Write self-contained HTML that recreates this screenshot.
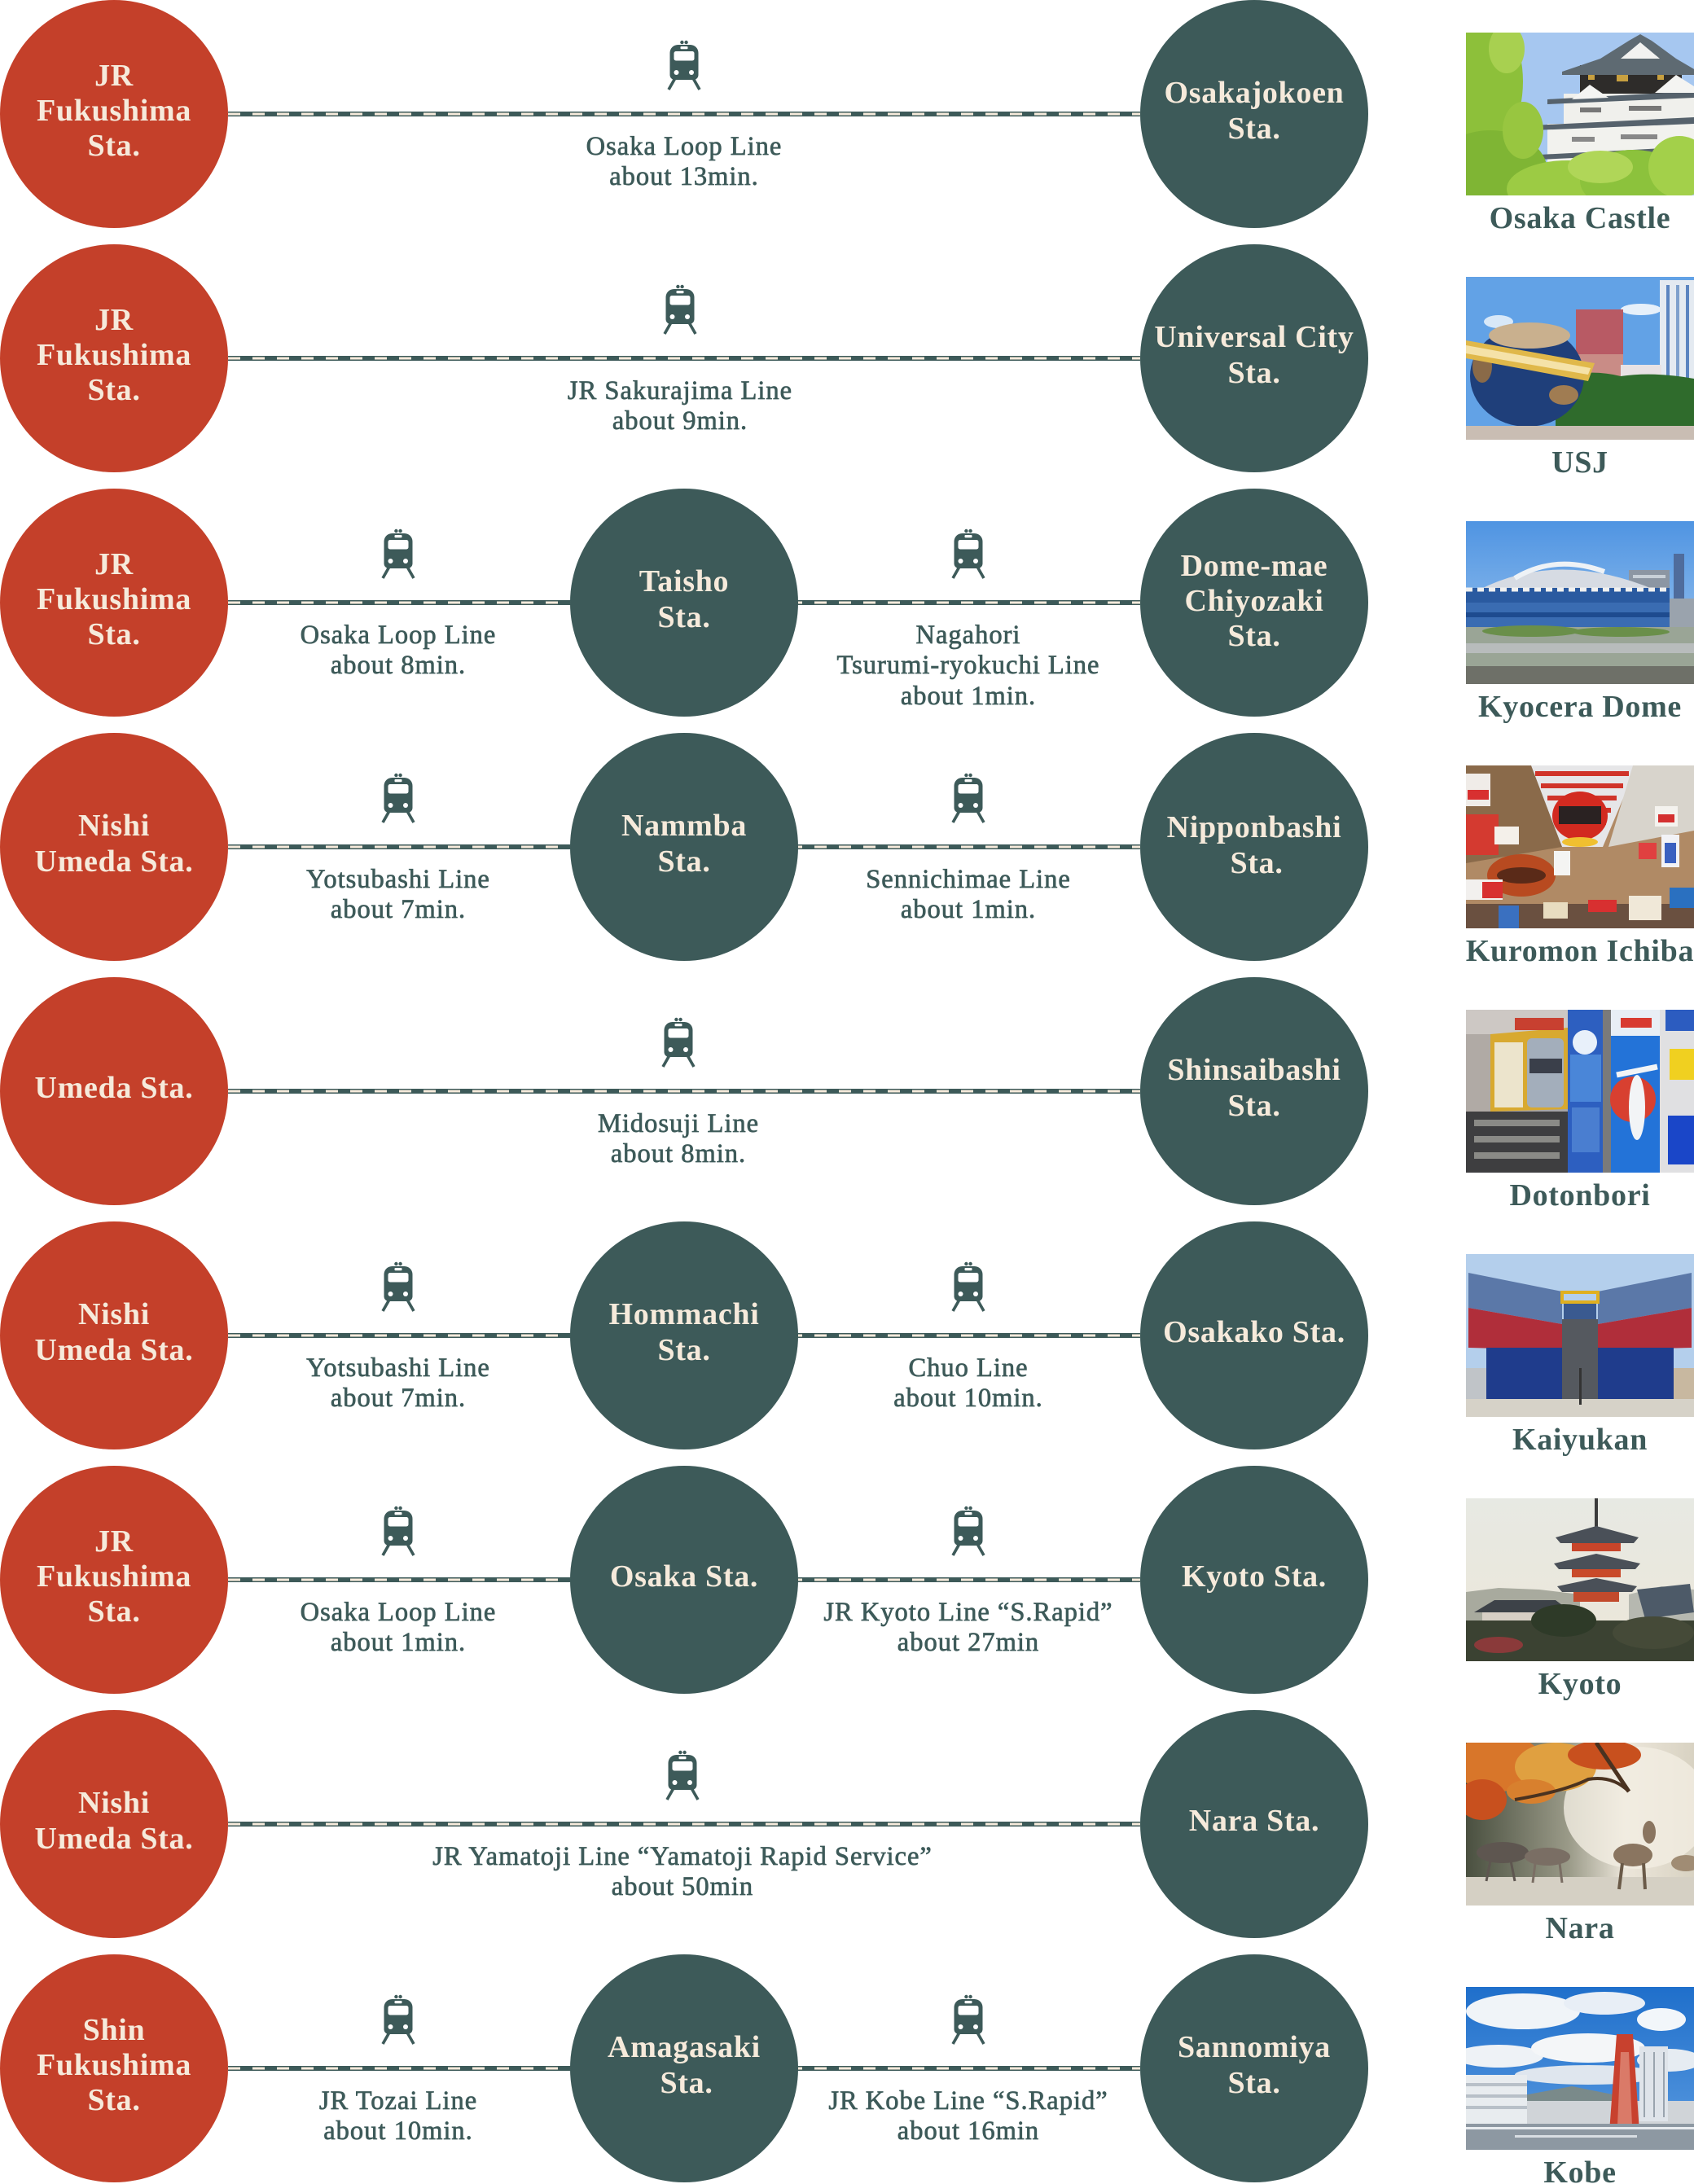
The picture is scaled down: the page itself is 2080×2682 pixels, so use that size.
<!DOCTYPE html>
<html>
<head>
<meta charset="utf-8">
<style>
  html,body{margin:0;padding:0;background:#fff;}
  body{width:2080px;height:2682px;overflow:hidden;}
  svg{display:block;}
  .red{fill:#c4402a;}
  .teal{fill:#3d5a59;}
  .bar{fill:#3d5a59;}
  .dash{stroke:#f6eadb;stroke-width:3;stroke-dasharray:15 15;}
  .st{font-family:"Liberation Serif",serif;font-weight:bold;font-size:38px;fill:#f6eadb;text-anchor:middle;letter-spacing:0.7px;}
  .cap{font-family:"Liberation Serif",serif;font-weight:bold;font-size:38px;fill:#3d5a59;text-anchor:middle;letter-spacing:0.7px;}
  .lb{font-family:"Liberation Serif",serif;font-size:32.5px;fill:#3d5a59;stroke:#3d5a59;stroke-width:0.7px;text-anchor:middle;letter-spacing:1px;}
</style>
</head>
<body>
<svg width="2080" height="2682" viewBox="0 0 2080 2682" xmlns="http://www.w3.org/2000/svg">
<defs>
  <g id="train">
    <circle cx="-2.6" cy="-88" r="2.2" fill="#3d5a59"/>
    <circle cx="2.6" cy="-88" r="2.2" fill="#3d5a59"/>
    <path d="M-17.5,-75 a10,10 0 0 1 10,-10 h15 a10,10 0 0 1 10,10 v27 a6,6 0 0 1 -6,6 h-23 a6,6 0 0 1 -6,-6 z" fill="#3d5a59"/>
    <rect x="-12.5" y="-77" width="25" height="11.5" rx="2.5" fill="#fff"/>
    <rect x="-4.5" y="-83" width="9" height="3.2" rx="1" fill="#fff"/>
    <circle cx="-9.5" cy="-51" r="3" fill="#fff"/>
    <circle cx="9" cy="-51" r="3" fill="#fff"/>
    <path d="M-11,-44 L-19,-30 M11,-44 L19,-30" stroke="#3d5a59" stroke-width="3.6" fill="none"/>
  </g>
  <linearGradient id="skyA" x1="0" y1="0" x2="0" y2="1"><stop offset="0" stop-color="#4f94e2"/><stop offset="1" stop-color="#a9cdf1"/></linearGradient>
  <linearGradient id="skyK" x1="0" y1="0" x2="0" y2="1"><stop offset="0" stop-color="#e7e9e3"/><stop offset="1" stop-color="#ece6d8"/></linearGradient>
  <linearGradient id="naraG" x1="0" y1="0" x2="1" y2="0"><stop offset="0" stop-color="#4a5040"/><stop offset="0.45" stop-color="#9a9a88"/><stop offset="0.7" stop-color="#ece6da"/><stop offset="1" stop-color="#d8d2c2"/></linearGradient>
  <linearGradient id="kobeS" x1="0" y1="0" x2="0" y2="1"><stop offset="0" stop-color="#1f6fcb"/><stop offset="1" stop-color="#5b9be0"/></linearGradient>
</defs>

<!-- ROW 0 -->
<g transform="translate(0,140)">
  <rect class="bar" x="280" y="-3" width="1120" height="6"/>
  <line class="dash" x1="280" y1="0" x2="1400" y2="0"/>
  <circle class="red" cx="140" cy="0" r="140"/>
  <circle class="teal" cx="1540" cy="0" r="140"/>
  <text class="st"><tspan x="140" y="-35">JR</tspan><tspan x="140" y="8">Fukushima</tspan><tspan x="140" y="51">Sta.</tspan></text>
  <text class="st"><tspan x="1540" y="-14">Osakajokoen</tspan><tspan x="1540" y="30">Sta.</tspan></text>
  <use href="#train" x="840" y="0"/>
  <text class="lb"><tspan x="840" y="50">Osaka Loop Line</tspan><tspan x="840" y="87">about 13min.</tspan></text>
  <svg x="1800" y="-100" width="280" height="200">
    <rect width="280" height="200" fill="#a6c7f0"/>
    <!-- castle -->
    <rect x="140" y="40" width="125" height="35" fill="#2e2c2a"/>
    <rect x="150" y="50" width="8" height="8" fill="#c8a040"/><rect x="185" y="52" width="14" height="8" fill="#c8a040"/><rect x="235" y="50" width="8" height="8" fill="#c8a040"/>
    <polygon points="118,48 165,32 200,10 214,2 228,10 258,32 282,46 282,52 118,52" fill="#5e6a72"/>
    <polygon points="190,32 214,12 238,32" fill="#f2f2f0"/>
    <rect x="120" y="75" width="160" height="40" fill="#f0f0ec"/>
    <polygon points="100,82 280,72 280,80 100,88" fill="#56626c"/>
    <polygon points="232,74 258,52 280,66 280,74" fill="#f4f4f2"/>
    <polygon points="130,82 152,64 175,80" fill="#f4f4f2"/>
    <rect x="100" y="112" width="180" height="50" fill="#f2f2ee"/>
    <polygon points="82,114 280,104 280,112 82,120" fill="#56626c"/>
    <polygon points="90,150 280,140 280,147 90,156" fill="#56626c"/>
    <rect x="140" y="92" width="26" height="6" fill="#777"/><rect x="200" y="90" width="40" height="6" fill="#777"/>
    <rect x="130" y="128" width="28" height="6" fill="#888"/><rect x="190" y="125" width="45" height="6" fill="#888"/>
    <!-- trees -->
    <ellipse cx="22" cy="60" rx="48" ry="85" fill="#8dc03a"/>
    <ellipse cx="30" cy="170" rx="70" ry="50" fill="#7fb534"/>
    <ellipse cx="125" cy="192" rx="75" ry="35" fill="#9ccb44"/>
    <ellipse cx="205" cy="182" rx="65" ry="38" fill="#8cc23c"/>
    <ellipse cx="262" cy="165" rx="38" ry="38" fill="#a3d04a"/>
    <ellipse cx="165" cy="165" rx="40" ry="20" fill="#b0d658"/>
    <ellipse cx="70" cy="120" rx="25" ry="35" fill="#98c640"/>
    <ellipse cx="50" cy="20" rx="22" ry="30" fill="#a8d050"/>
  </svg>
  <text class="cap" x="1940" y="140">Osaka Castle</text>
</g>

<!-- ROW 1 -->
<g transform="translate(0,440)">
  <rect class="bar" x="280" y="-3" width="1120" height="6"/>
  <line class="dash" x1="280" y1="0" x2="1400" y2="0"/>
  <circle class="red" cx="140" cy="0" r="140"/>
  <circle class="teal" cx="1540" cy="0" r="140"/>
  <text class="st"><tspan x="140" y="-35">JR</tspan><tspan x="140" y="8">Fukushima</tspan><tspan x="140" y="51">Sta.</tspan></text>
  <text class="st"><tspan x="1540" y="-14">Universal City</tspan><tspan x="1540" y="30">Sta.</tspan></text>
  <use href="#train" x="835" y="0"/>
  <text class="lb"><tspan x="835" y="50">JR Sakurajima Line</tspan><tspan x="835" y="87">about 9min.</tspan></text>
  <svg x="1800" y="-100" width="280" height="200">
    <rect width="280" height="200" fill="#62a2e6"/>
    <ellipse cx="215" cy="40" rx="25" ry="7" fill="#e6f0fa"/>
    <ellipse cx="40" cy="55" rx="18" ry="8" fill="#d8e8f8"/>
    <rect x="238" y="4" width="42" height="128" fill="#e4eaf1"/>
    <rect x="246" y="10" width="4" height="118" fill="#5b84c0"/><rect x="258" y="10" width="4" height="118" fill="#7fa0cc"/><rect x="270" y="10" width="4" height="118" fill="#5b84c0"/>
    <rect x="135" y="40" width="58" height="55" fill="#b85a64"/>
    <rect x="135" y="95" width="58" height="30" fill="#c98c86"/>
    <rect x="190" y="108" width="50" height="22" fill="#e8e2e4"/>
    <path d="M110,125 Q150,112 190,122 Q230,116 280,125 L280,185 L110,185 Z" fill="#2f6b2c"/>
    <ellipse cx="75" cy="122" rx="70" ry="62" fill="#1f3f7a"/>
    <ellipse cx="78" cy="72" rx="50" ry="16" fill="#c9b08e"/>
    <ellipse cx="120" cy="145" rx="18" ry="12" fill="#a07c52"/>
    <ellipse cx="20" cy="110" rx="12" ry="20" fill="#8a6a48"/>
    <polygon points="0,78 0,100 150,128 158,106" fill="#e0b84a"/>
    <polygon points="0,84 0,94 150,120 153,112" fill="#f5e2a8"/>
    <rect x="0" y="183" width="280" height="17" fill="#c9bdb3"/>
  </svg>
  <text class="cap" x="1940" y="140">USJ</text>
</g>

<!-- ROW 2 -->
<g transform="translate(0,740)">
  <rect class="bar" x="280" y="-3" width="1120" height="6"/>
  <line class="dash" x1="280" y1="0" x2="1400" y2="0"/>
  <circle class="red" cx="140" cy="0" r="140"/>
  <circle class="teal" cx="840" cy="0" r="140"/>
  <circle class="teal" cx="1540" cy="0" r="140"/>
  <text class="st"><tspan x="140" y="-35">JR</tspan><tspan x="140" y="8">Fukushima</tspan><tspan x="140" y="51">Sta.</tspan></text>
  <text class="st"><tspan x="840" y="-14">Taisho</tspan><tspan x="840" y="30">Sta.</tspan></text>
  <text class="st"><tspan x="1540" y="-33">Dome-mae</tspan><tspan x="1540" y="10">Chiyozaki</tspan><tspan x="1540" y="53">Sta.</tspan></text>
  <use href="#train" x="489" y="0"/>
  <use href="#train" x="1189" y="0"/>
  <text class="lb"><tspan x="489" y="50">Osaka Loop Line</tspan><tspan x="489" y="87">about 8min.</tspan></text>
  <text class="lb"><tspan x="1189" y="50">Nagahori</tspan><tspan x="1189" y="87">Tsurumi-ryokuchi Line</tspan><tspan x="1189" y="125">about 1min.</tspan></text>
  <svg x="1800" y="-100" width="280" height="200">
    <rect width="280" height="200" fill="url(#skyA)"/>
    <rect x="200" y="60" width="50" height="72" fill="#8c96a3"/>
    <rect x="205" y="66" width="40" height="4" fill="#c8d0d8"/>
    <rect x="255" y="40" width="13" height="92" fill="#4f6c9c"/>
    <rect x="250" y="95" width="30" height="40" fill="#9aa3ad"/>
    <path d="M2,92 Q110,28 245,90 Z" fill="#d6dbe3"/>
    <path d="M60,70 Q110,40 170,62" stroke="#eef2f6" stroke-width="6" fill="none"/>
    <rect x="0" y="82" width="250" height="18" fill="#2a5aa0"/>
    <path d="M0,84 h250" stroke="#f0f0f0" stroke-width="5" stroke-dasharray="8 6"/>
    <rect x="0" y="100" width="250" height="30" fill="#3a6cb2"/>
    <rect x="0" y="112" width="250" height="6" fill="#1e4b8f"/>
    <rect x="0" y="130" width="280" height="70" fill="#9aa596"/>
    <ellipse cx="80" cy="135" rx="60" ry="7" fill="#6a8f4a"/>
    <ellipse cx="190" cy="136" rx="60" ry="6" fill="#6a8f4a"/>
    <rect x="0" y="150" width="280" height="12" fill="#b8bcbc"/>
    <rect x="0" y="178" width="280" height="22" fill="#6e7068"/>
  </svg>
  <text class="cap" x="1940" y="140">Kyocera Dome</text>
</g>

<!-- ROW 3 -->
<g transform="translate(0,1040)">
  <rect class="bar" x="280" y="-3" width="1120" height="6"/>
  <line class="dash" x1="280" y1="0" x2="1400" y2="0"/>
  <circle class="red" cx="140" cy="0" r="140"/>
  <circle class="teal" cx="840" cy="0" r="140"/>
  <circle class="teal" cx="1540" cy="0" r="140"/>
  <text class="st"><tspan x="140" y="-14">Nishi</tspan><tspan x="140" y="30">Umeda Sta.</tspan></text>
  <text class="st"><tspan x="840" y="-14">Nammba</tspan><tspan x="840" y="30">Sta.</tspan></text>
  <text class="st"><tspan x="1540" y="-12">Nipponbashi</tspan><tspan x="1543" y="32">Sta.</tspan></text>
  <use href="#train" x="489" y="0"/>
  <use href="#train" x="1189" y="0"/>
  <text class="lb"><tspan x="489" y="50">Yotsubashi Line</tspan><tspan x="489" y="87">about 7min.</tspan></text>
  <text class="lb"><tspan x="1189" y="50">Sennichimae Line</tspan><tspan x="1189" y="87">about 1min.</tspan></text>
  <svg x="1800" y="-100" width="280" height="200">
    <rect width="280" height="200" fill="#b08a65"/>
    <polygon points="75,0 210,0 168,100 118,100" fill="#e6e6e8"/>
    <path d="M85,10 L200,10 M92,25 L193,25 M100,40 L185,40 M108,55 L178,55 M114,70 L172,70" stroke="#d0342a" stroke-width="6"/>
    <polygon points="205,0 280,0 280,80 175,100" fill="#d8d4cc"/>
    <polygon points="0,0 80,0 118,100 0,120" fill="#8a6a4a"/>
    <ellipse cx="140" cy="62" rx="34" ry="30" fill="#d22a20"/>
    <rect x="114" y="50" width="52" height="22" fill="#2a2222"/>
    <ellipse cx="140" cy="94" rx="22" ry="6" fill="#f0c030"/>
    <ellipse cx="68" cy="135" rx="42" ry="26" fill="#b84a20"/>
    <ellipse cx="68" cy="135" rx="30" ry="10" fill="#5a2a18"/>
    <rect x="0" y="10" width="30" height="40" fill="#f0ece8"/><rect x="2" y="30" width="26" height="12" fill="#d83030"/>
    <rect x="0" y="60" width="40" height="50" fill="#d43a30"/>
    <rect x="35" y="75" width="30" height="22" fill="#f4f0ea"/>
    <rect x="0" y="140" width="45" height="25" fill="#f2f0ee"/><rect x="20" y="143" width="25" height="20" fill="#d83030"/>
    <rect x="108" y="105" width="20" height="30" fill="#f4f4f2"/>
    <rect x="232" y="50" width="28" height="25" fill="#f4f2ee"/><rect x="236" y="60" width="20" height="10" fill="#d43030"/>
    <rect x="240" y="85" width="22" height="40" fill="#f2f2f6"/><rect x="244" y="95" width="14" height="25" fill="#3a60c0"/>
    <rect x="212" y="95" width="22" height="20" fill="#e04040"/>
    <rect x="0" y="170" width="280" height="30" fill="#6a5040"/>
    <rect x="40" y="172" width="25" height="28" fill="#3a70c0"/><rect x="95" y="168" width="30" height="20" fill="#e8dcc0"/>
    <rect x="150" y="165" width="35" height="15" fill="#d83030"/><rect x="200" y="160" width="40" height="30" fill="#f0e8d8"/>
    <rect x="250" y="150" width="30" height="25" fill="#2a70c0"/>
  </svg>
  <text class="cap" x="1940" y="140">Kuromon Ichiba</text>
</g>

<!-- ROW 4 -->
<g transform="translate(0,1340)">
  <rect class="bar" x="280" y="-3" width="1120" height="6"/>
  <line class="dash" x1="280" y1="0" x2="1400" y2="0"/>
  <circle class="red" cx="140" cy="0" r="140"/>
  <circle class="teal" cx="1540" cy="0" r="140"/>
  <text class="st"><tspan x="140" y="8">Umeda Sta.</tspan></text>
  <text class="st"><tspan x="1540" y="-14">Shinsaibashi</tspan><tspan x="1540" y="30">Sta.</tspan></text>
  <use href="#train" x="833" y="0"/>
  <text class="lb"><tspan x="833" y="50">Midosuji Line</tspan><tspan x="833" y="87">about 8min.</tspan></text>
  <svg x="1800" y="-100" width="280" height="200">
    <rect width="280" height="200" fill="#a6a4a6"/>
    <rect x="0" y="0" width="130" height="40" fill="#cdc8c4"/>
    <rect x="0" y="30" width="35" height="100" fill="#b0aaa5"/>
    <polygon points="30,30 125,22 125,122 30,125" fill="#d8a930"/>
    <rect x="35" y="40" width="35" height="80" fill="#ece4cc"/>
    <rect x="75" y="35" width="45" height="85" rx="6" fill="#a3aebb"/>
    <rect x="78" y="60" width="40" height="18" fill="#3a3f4a"/>
    <rect x="60" y="10" width="60" height="15" fill="#c84030"/>
    <rect x="0" y="125" width="125" height="75" fill="#3e3e40"/>
    <rect x="10" y="135" width="105" height="8" fill="#8a8a86"/><rect x="10" y="155" width="105" height="8" fill="#8a8a86"/><rect x="10" y="175" width="105" height="8" fill="#8a8a86"/>
    <rect x="125" y="0" width="43" height="200" fill="#2d5fc0"/>
    <rect x="128" y="55" width="38" height="58" fill="#4a86d8"/>
    <circle cx="146" cy="40" r="15" fill="#e8f0fa"/>
    <rect x="130" y="120" width="34" height="55" fill="#4a7ed0"/>
    <rect x="168" y="0" width="10" height="200" fill="#7a7a7a"/>
    <rect x="178" y="0" width="60" height="200" fill="#2373d8"/>
    <rect x="178" y="0" width="60" height="32" fill="#e8eef5"/>
    <rect x="190" y="10" width="38" height="12" fill="#d83a30"/>
    <circle cx="205" cy="110" r="28" fill="#d84030"/>
    <ellipse cx="210" cy="120" rx="10" ry="40" fill="#f2f4f6"/>
    <path d="M185,80 L235,70" stroke="#f2f4f6" stroke-width="7"/>
    <rect x="238" y="0" width="42" height="200" fill="#e0e0e2"/>
    <rect x="245" y="0" width="35" height="26" fill="#2c5cc0"/>
    <rect x="250" y="48" width="30" height="38" fill="#f0d020"/>
    <rect x="248" y="130" width="32" height="60" fill="#1a46c8"/>
  </svg>
  <text class="cap" x="1940" y="140">Dotonbori</text>
</g>

<!-- ROW 5 -->
<g transform="translate(0,1640)">
  <rect class="bar" x="280" y="-3" width="1120" height="6"/>
  <line class="dash" x1="280" y1="0" x2="1400" y2="0"/>
  <circle class="red" cx="140" cy="0" r="140"/>
  <circle class="teal" cx="840" cy="0" r="140"/>
  <circle class="teal" cx="1540" cy="0" r="140"/>
  <text class="st"><tspan x="140" y="-14">Nishi</tspan><tspan x="140" y="30">Umeda Sta.</tspan></text>
  <text class="st"><tspan x="840" y="-14">Hommachi</tspan><tspan x="840" y="30">Sta.</tspan></text>
  <text class="st"><tspan x="1540" y="8">Osakako Sta.</tspan></text>
  <use href="#train" x="489" y="0"/>
  <use href="#train" x="1189" y="0"/>
  <text class="lb"><tspan x="489" y="50">Yotsubashi Line</tspan><tspan x="489" y="87">about 7min.</tspan></text>
  <text class="lb"><tspan x="1189" y="50">Chuo Line</tspan><tspan x="1189" y="87">about 10min.</tspan></text>
  <svg x="1800" y="-100" width="280" height="200">
    <rect width="280" height="200" fill="#b4cfec"/>
    <polygon points="3,23 118,46 118,86 3,66" fill="#5b78a8"/>
    <polygon points="3,66 118,86 118,118 3,115" fill="#b02e3a"/>
    <polygon points="277,23 162,46 162,86 277,66" fill="#5b78a8"/>
    <polygon points="277,66 162,86 162,118 277,115" fill="#b02e3a"/>
    <rect x="25" y="115" width="95" height="63" fill="#1f3c8c"/>
    <rect x="160" y="115" width="95" height="63" fill="#1f3c8c"/>
    <rect x="120" y="58" width="40" height="25" fill="#3a5a90"/>
    <rect x="118" y="47" width="44" height="12" fill="none" stroke="#e0b020" stroke-width="4"/>
    <rect x="118" y="80" width="44" height="98" fill="#55595f"/>
    <rect x="0" y="140" width="25" height="40" fill="#c0c4c8"/>
    <rect x="255" y="140" width="25" height="40" fill="#c8b8a0"/>
    <rect x="0" y="178" width="280" height="22" fill="#d6d2c8"/>
    <rect x="139" y="140" width="3" height="45" fill="#333"/>
  </svg>
  <text class="cap" x="1940" y="140">Kaiyukan</text>
</g>

<!-- ROW 6 -->
<g transform="translate(0,1940)">
  <rect class="bar" x="280" y="-3" width="1120" height="6"/>
  <line class="dash" x1="280" y1="0" x2="1400" y2="0"/>
  <circle class="red" cx="140" cy="0" r="140"/>
  <circle class="teal" cx="840" cy="0" r="140"/>
  <circle class="teal" cx="1540" cy="0" r="140"/>
  <text class="st"><tspan x="140" y="-35">JR</tspan><tspan x="140" y="8">Fukushima</tspan><tspan x="140" y="51">Sta.</tspan></text>
  <text class="st"><tspan x="840" y="8">Osaka Sta.</tspan></text>
  <text class="st"><tspan x="1540" y="8">Kyoto Sta.</tspan></text>
  <use href="#train" x="489" y="0"/>
  <use href="#train" x="1189" y="0"/>
  <text class="lb"><tspan x="489" y="50">Osaka Loop Line</tspan><tspan x="489" y="87">about 1min.</tspan></text>
  <text class="lb"><tspan x="1189" y="50">JR Kyoto Line “S.Rapid”</tspan><tspan x="1189" y="87">about 27min</tspan></text>
  <svg x="1800" y="-100" width="280" height="200">
    <rect width="280" height="200" fill="url(#skyK)"/>
    <polygon points="0,115 40,110 90,112 140,118 140,160 0,160" fill="#a8aa9e"/>
    <polygon points="200,118 240,108 280,112 280,150 200,150" fill="#b6b8b0"/>
    <rect x="158" y="0" width="4" height="55" fill="#3b3b3b"/>
    <polygon points="110,48 160,34 212,48 206,55 116,55" fill="#4a5058"/>
    <rect x="130" y="55" width="60" height="10" fill="#c8452a"/>
    <polygon points="108,80 160,68 214,80 208,87 114,87" fill="#4a5058"/>
    <rect x="130" y="87" width="60" height="10" fill="#c94a2a"/>
    <polygon points="112,108 160,98 210,108 204,115 118,115" fill="#4a5058"/>
    <rect x="132" y="115" width="56" height="12" fill="#c24a2c"/>
    <polygon points="10,140 35,125 110,125 130,140" fill="#3d4248"/>
    <rect x="20" y="140" width="100" height="15" fill="#d7cfc5"/>
    <polygon points="210,112 275,105 280,140 220,148" fill="#4d5a68"/>
    <rect x="0" y="150" width="280" height="50" fill="#3b4232"/>
    <ellipse cx="120" cy="150" rx="40" ry="20" fill="#2e3a28"/>
    <ellipse cx="230" cy="165" rx="50" ry="20" fill="#454a38"/>
    <ellipse cx="40" cy="180" rx="30" ry="10" fill="#8a3a3a"/>
  </svg>
  <text class="cap" x="1940" y="140">Kyoto</text>
</g>

<!-- ROW 7 -->
<g transform="translate(0,2240)">
  <rect class="bar" x="280" y="-3" width="1120" height="6"/>
  <line class="dash" x1="280" y1="0" x2="1400" y2="0"/>
  <circle class="red" cx="140" cy="0" r="140"/>
  <circle class="teal" cx="1540" cy="0" r="140"/>
  <text class="st"><tspan x="140" y="-14">Nishi</tspan><tspan x="140" y="30">Umeda Sta.</tspan></text>
  <text class="st"><tspan x="1540" y="8">Nara Sta.</tspan></text>
  <use href="#train" x="838" y="0"/>
  <text class="lb"><tspan x="838" y="50">JR Yamatoji Line “Yamatoji Rapid Service”</tspan><tspan x="838" y="87">about 50min</tspan></text>
  <svg x="1800" y="-100" width="280" height="200">
    <rect width="280" height="200" fill="url(#naraG)"/>
    <ellipse cx="210" cy="80" rx="90" ry="75" fill="#f2ede2" opacity="0.8"/>
    <ellipse cx="40" cy="25" rx="55" ry="35" fill="#d8762a"/>
    <ellipse cx="110" cy="30" rx="50" ry="30" fill="#e0a040"/>
    <ellipse cx="170" cy="15" rx="45" ry="18" fill="#c8501e"/>
    <ellipse cx="20" cy="70" rx="30" ry="25" fill="#c8501e"/>
    <ellipse cx="80" cy="60" rx="30" ry="15" fill="#d8802e"/>
    <path d="M60,70 Q120,60 150,45 Q180,40 200,60" stroke="#4a3220" stroke-width="4" fill="none"/>
    <path d="M160,0 Q180,30 200,60" stroke="#4a3220" stroke-width="5" fill="none"/>
    <rect x="0" y="165" width="280" height="35" fill="#d5d0c4"/>
    <ellipse cx="45" cy="135" rx="32" ry="13" fill="#5e5650"/>
    <path d="M30,145 L25,170 M55,145 L60,170" stroke="#5e5650" stroke-width="3"/>
    <ellipse cx="100" cy="140" rx="28" ry="11" fill="#7a6e64"/>
    <path d="M85,148 L82,172 M115,148 L118,172" stroke="#7a6e64" stroke-width="3"/>
    <ellipse cx="205" cy="138" rx="24" ry="14" fill="#8a7560"/>
    <ellipse cx="225" cy="110" rx="8" ry="14" fill="#8a7560"/>
    <path d="M192,148 L188,180 M218,148 L220,180" stroke="#6a5a48" stroke-width="4"/>
    <ellipse cx="270" cy="148" rx="18" ry="10" fill="#a08c74"/>
  </svg>
  <text class="cap" x="1940" y="140">Nara</text>
</g>

<!-- ROW 8 -->
<g transform="translate(0,2540)">
  <rect class="bar" x="280" y="-3" width="1120" height="6"/>
  <line class="dash" x1="280" y1="0" x2="1400" y2="0"/>
  <circle class="red" cx="140" cy="0" r="140"/>
  <circle class="teal" cx="840" cy="0" r="140"/>
  <circle class="teal" cx="1540" cy="0" r="140"/>
  <text class="st"><tspan x="140" y="-35">Shin</tspan><tspan x="140" y="8">Fukushima</tspan><tspan x="140" y="51">Sta.</tspan></text>
  <text class="st"><tspan x="840" y="-14">Amagasaki</tspan><tspan x="843" y="30">Sta.</tspan></text>
  <text class="st"><tspan x="1540" y="-14">Sannomiya</tspan><tspan x="1540" y="30">Sta.</tspan></text>
  <use href="#train" x="489" y="0"/>
  <use href="#train" x="1189" y="0"/>
  <text class="lb"><tspan x="489" y="50">JR Tozai Line</tspan><tspan x="489" y="87">about 10min.</tspan></text>
  <text class="lb"><tspan x="1189" y="50">JR Kobe Line “S.Rapid”</tspan><tspan x="1189" y="87">about 16min</tspan></text>
  <svg x="1800" y="-100" width="280" height="200">
    <rect width="280" height="200" fill="url(#kobeS)"/>
    <ellipse cx="70" cy="30" rx="70" ry="22" fill="#f0f4f8"/>
    <ellipse cx="170" cy="20" rx="50" ry="14" fill="#e8eef6"/>
    <ellipse cx="240" cy="40" rx="30" ry="14" fill="#f2f6fa"/>
    <ellipse cx="40" cy="85" rx="55" ry="14" fill="#eef2f6"/>
    <ellipse cx="150" cy="75" rx="70" ry="18" fill="#f4f6f8"/>
    <ellipse cx="250" cy="90" rx="40" ry="14" fill="#e6ecf2"/>
    <ellipse cx="150" cy="108" rx="90" ry="12" fill="#dfe6ee"/>
    <polygon points="60,135 130,122 180,132 180,145 60,145" fill="#7a8a8a"/>
    <rect x="0" y="108" width="75" height="62" fill="#e8ecef"/>
    <rect x="0" y="118" width="75" height="4" fill="#b8c0c8"/><rect x="0" y="132" width="75" height="4" fill="#b8c0c8"/><rect x="0" y="146" width="75" height="4" fill="#b8c0c8"/>
    <rect x="75" y="140" width="205" height="30" fill="#d0d4d8"/>
    <polygon points="185,58 205,58 213,178 176,178" fill="#c8412e"/>
    <polygon points="190,80 200,80 204,170 186,170" fill="#e6a090" opacity="0.6"/>
    <rect x="213" y="73" width="35" height="92" fill="#dfe4ea"/>
    <rect x="218" y="80" width="2" height="80" fill="#9aa4ae"/><rect x="230" y="80" width="2" height="80" fill="#9aa4ae"/><rect x="242" y="80" width="2" height="80" fill="#9aa4ae"/>
    <rect x="0" y="168" width="280" height="32" fill="#8d98a2"/>
    <rect x="0" y="172" width="280" height="3" fill="#e8ecef"/>
    <rect x="60" y="182" width="150" height="3" fill="#d8dde2"/>
  </svg>
  <text class="cap" x="1940" y="140">Kobe</text>
</g>
</svg>
</body>
</html>
